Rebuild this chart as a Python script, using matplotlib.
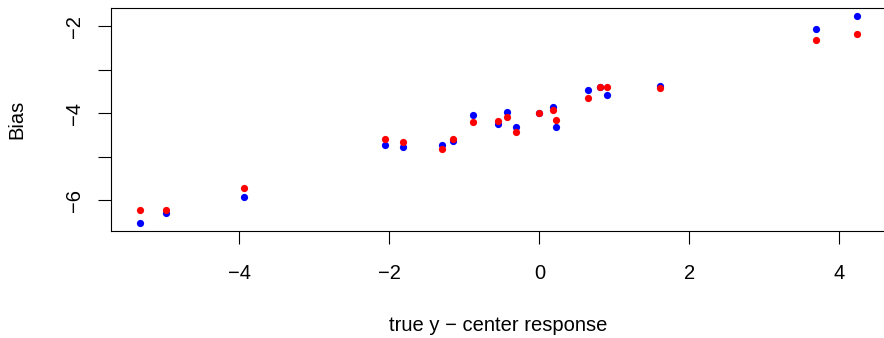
import numpy as np
import matplotlib
matplotlib.use("Agg")
import matplotlib.pyplot as plt

# values
x_vals = [-5.33, -4.976, -3.944, -2.06, -1.816, -1.304, -1.149, -0.883, -0.549, -0.429,
          -0.313, 0.0, 0.184, 0.224, 0.642, 0.804, 0.904, 1.603, 3.683, 4.233]
bias_blue = [-6.518, -6.29, -5.935, -4.721, -4.775, -4.721, -4.645, -4.03, -4.237, -3.968,
             -4.313, -4.0, -3.853, -4.313, -3.454, -3.40, -3.585, -3.362, -2.065, -1.765]
bias_red = [-6.226, -6.235, -5.72, -4.599, -4.652, -4.813, -4.583, -4.19, -4.184, -4.092,
            -4.429, -4.0, -3.915, -4.145, -3.654, -3.392, -3.392, -3.424, -2.302, -2.166]

x_ticks = [-4, -2, 0, 2, 4]
x_ticklabels = ["\u22124", "\u22122", "0", "2", "4"]
y_ticks = [-6, -5, -4, -3, -2]
y_ticklabels = ["\u22126", "", "\u22124", "", "\u22122"]

plt.rcParams['font.family'] = ['Liberation Sans', 'DejaVu Sans']
FS = 14.5

W, H = 884, 338
fig = plt.figure(figsize=(W / 100, H / 100), dpi=100)
# right edge of the box sits just outside the picture, like the reference
ax = fig.add_axes([111 / W, 1 - 231 / H, (885.6 - 111) / W, (231 - 8) / H])

ax.plot(x_vals, bias_blue, 'o', color='blue', ms=5.2, mec='none')
ax.plot(x_vals, bias_red, 'o', color='red', ms=5.2, mec='none')

# R style 4% padding
xr = max(x_vals) - min(x_vals)
allb = bias_blue + bias_red
yr = max(allb) - min(allb)
ax.set_xlim(min(x_vals) - 0.04 * xr, max(x_vals) + 0.04 * xr)
ax.set_ylim(min(allb) - 0.04 * yr, max(allb) + 0.04 * yr)

ax.set_xticks(x_ticks)
ax.set_xticklabels(x_ticklabels)
ax.set_yticks(y_ticks)
ax.set_yticklabels(y_ticklabels, rotation=90, va='center')

ax.tick_params(direction='out', length=9.5, width=0.8, labelsize=FS, color='black')
ax.tick_params(axis='x', pad=14)
ax.tick_params(axis='y', pad=10)
for s in ax.spines.values():
    s.set_linewidth(0.8)

ax.set_xlabel("true y \u2212 center response", fontsize=FS, labelpad=24)
ax.set_ylabel("Bias", fontsize=FS, labelpad=28)

fig.savefig("out.png", dpi=100)
